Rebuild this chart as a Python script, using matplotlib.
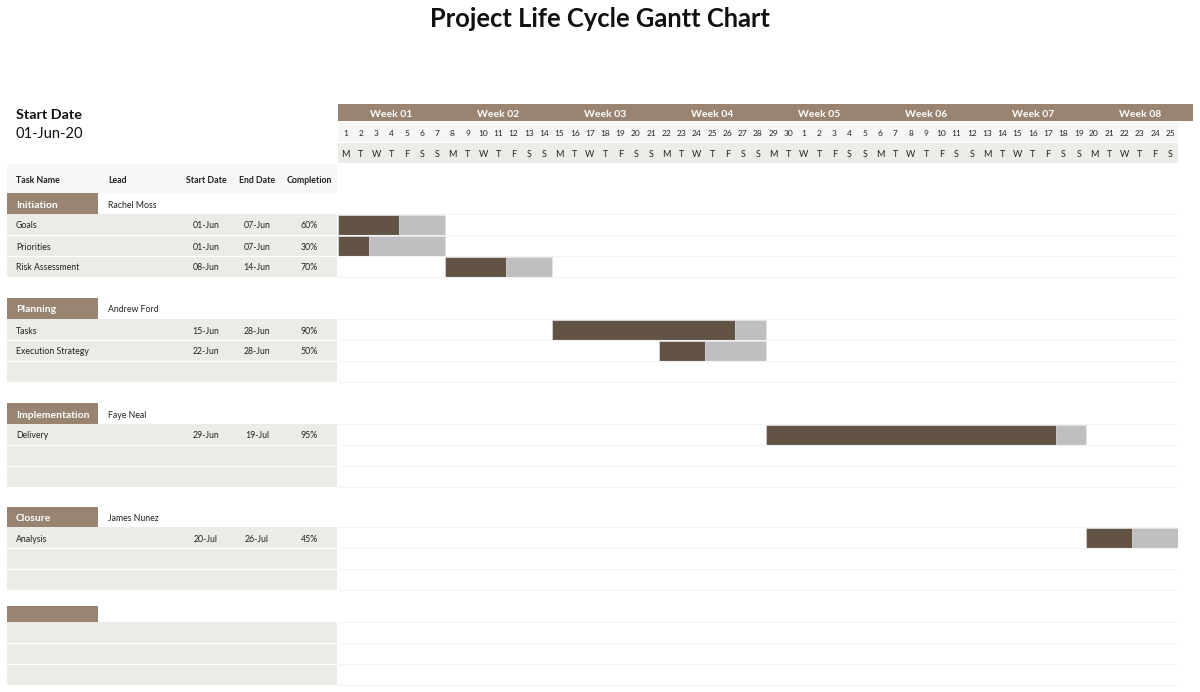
import matplotlib.pyplot as plt
from matplotlib.patches import Rectangle
import numpy as np
import pandas as pd

plt.rcParams['font.family'] = ['Lato', 'DejaVu Sans']

# data
project_start = pd.Timestamp('2020-06-01')
n_days = 55
phases = ['Initiation', 'Planning', 'Implementation', 'Closure', '']
leads = ['Rachel Moss', 'Andrew Ford', 'Faye Neal', 'James Nunez', '']
tasks = ['Goals', 'Priorities', 'Risk Assessment', 'Tasks', 'Execution Strategy', 'Delivery', 'Analysis']
task_phase = [0, 0, 0, 1, 1, 2, 3]
task_slot = [0, 1, 2, 0, 1, 0, 0]
starts = ['2020-06-01', '2020-06-01', '2020-06-08', '2020-06-15', '2020-06-22', '2020-06-29', '2020-07-20']
ends = ['2020-06-07', '2020-06-07', '2020-06-14', '2020-06-28', '2020-06-28', '2020-07-19', '2020-07-26']
completion = [60, 30, 70, 90, 50, 95, 45]

# colours
brown = '#988471'
dark = '#625344'
grey = '#bfbfc1'
cell = '#ecebe8'
txt = '#222222'

# layout (pixel units)
sec_top = [193, 298, 403, 507, 606]
sec_head = [21, 21, 21, 20, 16]
row_h = 21
dy = 1.5  # text baseline nudge

fig = plt.figure(figsize=(12, 6.92), dpi=100)
ax = fig.add_axes([0, 0, 1, 1])
ax.set_xlim(0, 1200)
ax.set_ylim(692, 0)
ax.axis('off')

gx = fig.add_axes([338 / 1200, 0, 840 / 1200, 1])
gx.set_xlim(0, n_days)
gx.set_ylim(692, 0)
gx.axis('off')
gx.patch.set_alpha(0)

ax.text(600, 19, 'Project Life Cycle Gantt Chart', ha='center', va='center',
        fontsize=18.4, fontweight='bold', color='#111111')

ax.text(16, 115, 'Start Date', fontsize=10.4, fontweight='bold', va='center', color='#111111')
ax.text(16, 134, project_start.strftime('%d-%b-%y'), fontsize=10.6, va='center', color='#111111')

# table header
ax.add_patch(Rectangle((7, 164), 330, 29, color='#f7f7f7', lw=0))
hy = 179 + dy
ax.text(16, hy, 'Task Name', fontsize=6.3, fontweight='bold', va='center', color=txt)
ax.text(108, hy, 'Lead', fontsize=6.3, fontweight='bold', va='center', color=txt)
ax.text(206, hy, 'Start Date', fontsize=6.3, fontweight='bold', va='center', ha='center', color=txt)
ax.text(257, hy, 'End Date', fontsize=6.3, fontweight='bold', va='center', ha='center', color=txt)
ax.text(309, hy, 'Completion', fontsize=6.3, fontweight='bold', va='center', ha='center', color=txt)

# timeline header
days = project_start + pd.to_timedelta(np.arange(n_days), unit='D')
gx.add_patch(Rectangle((0, 104), 56, 17, color=brown, lw=0, clip_on=False))
for w in range(8):
    gx.text(w * 7 + 3.5, 113 + dy, 'Week %02d' % (w + 1), ha='center', va='center',
            fontsize=7.5, fontweight='bold', color='white', clip_on=False)
gx.add_patch(Rectangle((0, 122), n_days, 20, color='#f6f6f6', lw=0))
gx.add_patch(Rectangle((0, 143), n_days, 20, color='#eeece9', lw=0))
for i, d in enumerate(days):
    gx.text(i + 0.5, 132 + dy, str(d.day), ha='center', va='center', fontsize=6, color=txt)
    gx.text(i + 0.5, 153 + dy, 'MTWTFSS'[d.weekday()], ha='center', va='center', fontsize=6.5, color=txt)

# sections
for p in range(len(phases)):
    top = sec_top[p]
    hh = sec_head[p]
    ax.add_patch(Rectangle((7, top), 91, hh, color=brown, lw=0))
    ax.text(16, top + hh / 2 + dy, phases[p], fontsize=7.5, fontweight='bold', color='white', va='center')
    ax.text(108, top + hh / 2 + dy, leads[p], fontsize=6.3, color=txt, va='center')
    for r in range(3):
        y0 = top + hh + r * row_h
        ax.add_patch(Rectangle((7, y0), 330, row_h, color=cell, lw=0))
        ax.plot([7, 337], [y0 + row_h, y0 + row_h], color='white', lw=0.8)
        gx.plot([0, n_days], [y0 + row_h, y0 + row_h], color='#f3f3f3', lw=0.8)
    gx.plot([0, n_days], [top + hh, top + hh], color='#f3f3f3', lw=0.8)

# tasks
st = pd.to_datetime(starts)
en = pd.to_datetime(ends)
left = (st - project_start).days.values
dur = (en - st).days.values + 1
done = np.floor(dur * np.array(completion) / 100)
vis = np.minimum(left + dur, n_days) - left
yc = [sec_top[p] + sec_head[p] + s * row_h + row_h / 2 for p, s in zip(task_phase, task_slot)]

for i in range(len(tasks)):
    y = yc[i] + dy
    ax.text(16, y, tasks[i], fontsize=6.3, color=txt, va='center')
    ax.text(206, y, st[i].strftime('%d-%b'), fontsize=6.3, color=txt, va='center', ha='center')
    ax.text(257, y, en[i].strftime('%d-%b'), fontsize=6.3, color=txt, va='center', ha='center')
    ax.text(309, y, '%d%%' % completion[i], fontsize=6.3, color=txt, va='center', ha='center')

gx.barh(yc, vis, left=left, height=row_h - 1, color=grey, edgecolor='#e4e4e4', lw=0.5)
gx.barh(yc, done, left=left, height=row_h - 1, color=dark, edgecolor='#e4e4e4', lw=0.5)

fig.savefig('out.png', dpi=100)
